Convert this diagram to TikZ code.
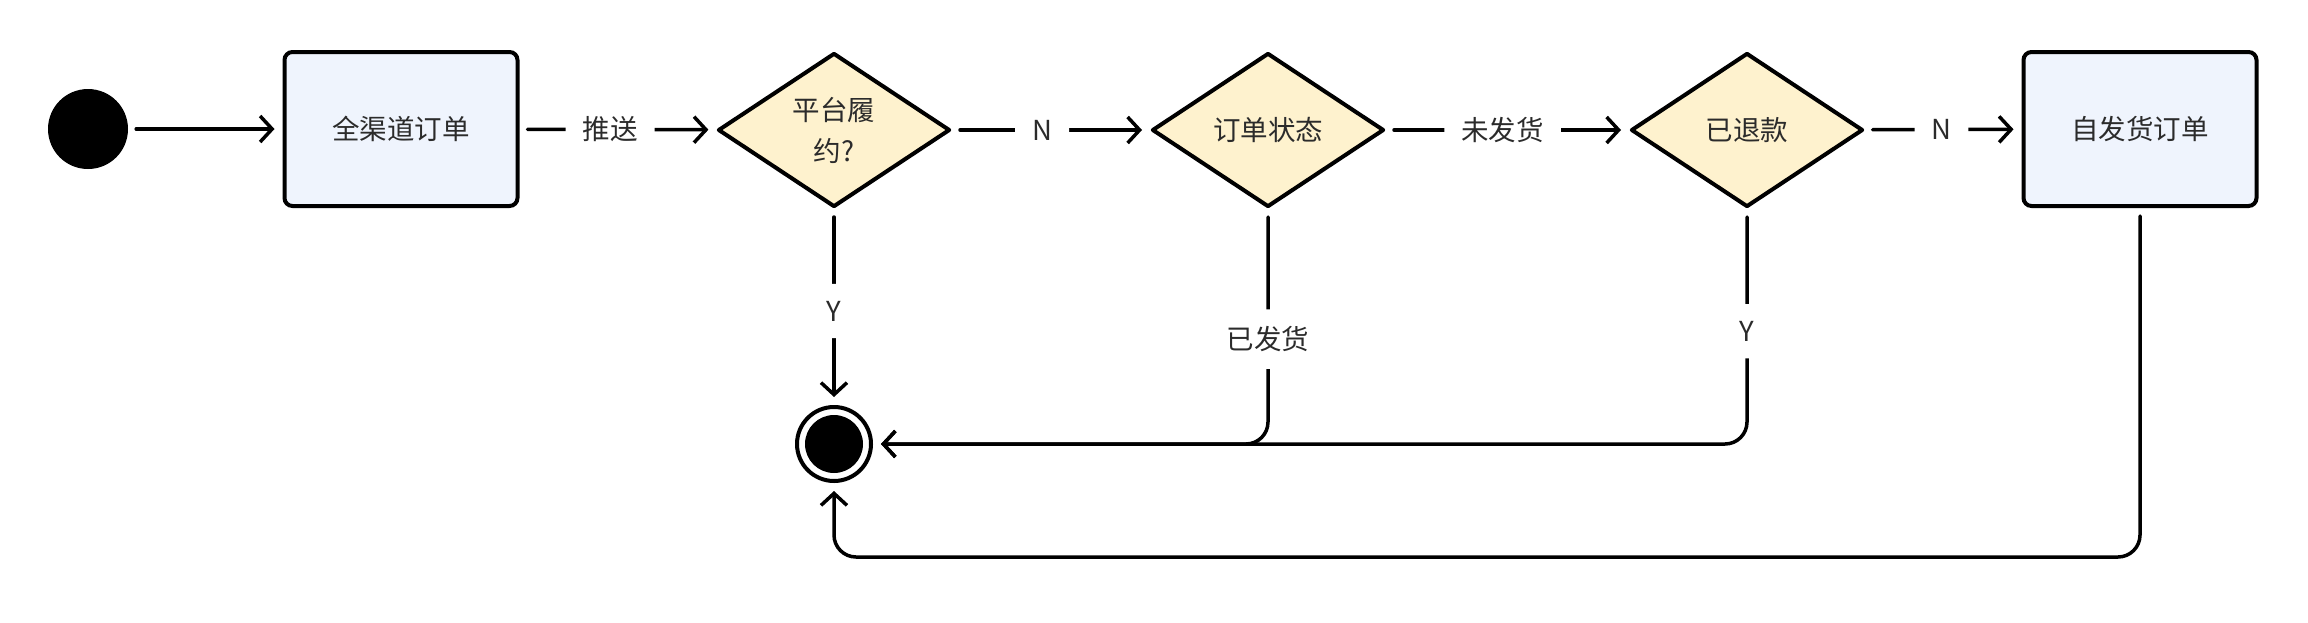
\documentclass[tikz,border=0pt]{standalone}
\usepackage{fontspec}
\setmainfont{Noto Sans CJK SC}
\usetikzlibrary{arrows.meta,shapes.geometric}
\definecolor{boxblue}{HTML}{EFF4FD}
\definecolor{askyellow}{HTML}{FEF2CE}
\definecolor{inkgray}{HTML}{2B2B2B}
\tikzset{
	state/.style={draw, line width=4pt, rounded corners=8pt, fill=boxblue, text=inkgray, minimum width=233pt, minimum height=154pt, inner sep=0pt},
	ask/.style={diamond, draw, line width=4pt, line join=round, fill=askyellow, text=inkgray, align=center, aspect=1.5, minimum width=232pt, minimum height=154pt, inner sep=0pt},
	flow/.style={line width=3.5pt, line cap=round, line join=round, rounded corners=22pt, shorten <=8pt, shorten >=8pt, -{Straight Barb[length=12pt,width=26pt]}},
	tag/.style={fill=white, text=inkgray, inner sep=17pt}
}

\begin{document}
\begin{tikzpicture}[x=1pt, y=-1pt, font=\fontsize{27.5}{41}\selectfont]
			%%%%% START %%%%%
			\useasboundingbox (0,0) rectangle (2308,622);
			
			\node[circle, fill=black, minimum size=80pt, inner sep=0pt] (start) at (88,129) {};
			\node[state] (all) at (401,129) {全渠道订单};
			\node[ask] (platform) at (834,130) {平台履\\约?};
			\node[ask] (status) at (1268,130) {订单状态};
			\node[ask] (refund) at (1747,130) {已退款};
			\node[state] (self) at (2140,129) {自发货订单};
			
			\node[circle, draw, line width=4pt, minimum size=74pt, inner sep=0pt] (stop) at (834,444) {};
			\fill (stop.center) circle (29pt);
			\coordinate (low) at (834,557);
			
			\draw[flow] (start) -- (all);
			\draw[flow] (all) -- node[tag, pos=0.46] {推送} (platform);
			\draw[flow] (platform) -- node[tag, pos=0.455] {N} (status);
			\draw[flow] (status) -- node[tag, pos=0.48] {未发货} (refund);
			\draw[flow] (refund) -- node[tag, pos=0.49] {N} (self);
			
			\draw[flow] (platform) -- node[tag, pos=0.52] {Y} (stop);
			\draw[flow] (status) |- node[tag, pos=0.277] {已发货} (stop);
			\draw[flow] (refund) |- node[tag, pos=0.26] {Y} (stop);
			\draw[flow] (self) |- (low) -- (stop);
			
			%%%%% END %%%%%
\end{tikzpicture}
\end{document}
